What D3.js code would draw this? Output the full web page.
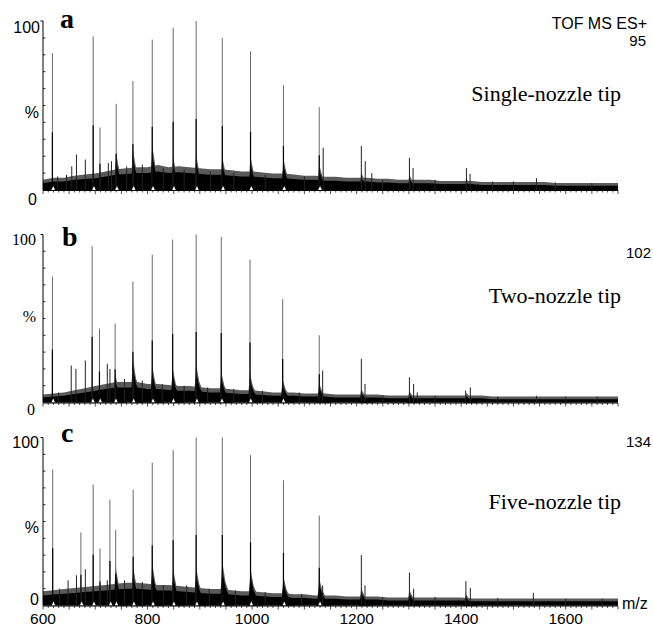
<!DOCTYPE html>
<html><head><meta charset="utf-8">
<script src="https://cdn.jsdelivr.net/npm/d3@7"></script>
<style>body{margin:0;background:#fff} svg{display:block}</style>
</head><body>
<svg id="chart" width="653" height="627"></svg>
<script>
// ---------------- data ----------------
const mzGrid = [600,620,640,660,680,700,720,740,760,780,800,820,840,860,880,900,920,940,960,980,
  1000,1020,1040,1060,1080,1100,1120,1140,1160,1180,1200,1220,1240,1260,1280,1300,1320,1340,1360,1380,
  1400,1420,1440,1460,1480,1500,1520,1540,1560,1580,1600,1620,1640,1660,1680,1700];

// noise floor (% of base peak)
const noiseA = [4,5,5,6,6.5,7,8,9,9.5,10,10,11,10,10.5,10,9.5,9,9,8.5,8,
  8,7.5,7,7,6.5,6,6,5.5,5.5,5,5,5,4.5,4.5,4,4,4,4,3.5,3.5,
  3.5,3.5,3,3,3,3,3,3,3,2.5,2.5,2.5,2.5,2.5,2.5,2.5];
const noiseB = [3,3.5,4,5,6,7,8,9,9,9,8,8,7.5,7,7,6.5,6,6,5.5,5,
  5,4.5,4,4,4,3.5,3.5,3.5,3,3,3,3,3,2.5,2.5,2.5,2.5,2.5,2.5,2.5,
  2.5,2.5,2.5,2,2,2,2,2,2,2,2,2,2,2,2,2];
const noiseC = [6,6.5,7,7.5,8,8.5,9,9.5,10,10,9.5,9,9,8.5,8,7.5,7,7,6.5,6,
  6,5.5,5,5,4.5,4.5,4,4,4,3.5,3.5,3.5,3.5,3,3,3,3,3,3,3,
  3,2.5,2.5,2.5,2.5,2.5,2.5,2.5,2.5,2.5,2.5,2.5,2.5,2.5,2.5,2.5];

// peaks [m/z, % intensity]
const peaksA = [[618,81],[628,8],[645,9],[655,14],[664,21],[681,18],[696,91],[709,37],[725,16],[731,17],
  [740,51],[760,14],[772,64.5],[790,15],[809,89],[830,13],[849,96],[870,12],[893,100],[920,11],
  [943,90],[965,10],[997,82],[1025,9],[1060,62],[1100,8],[1128.5,49],[1136,25],[1209,26],[1216.5,17],
  [1229,10],[1250,6],[1301,19],[1308,13],[1350,6],[1410,13],[1417,9.5],[1460,5],[1500,5],[1544,7],
  [1580,4.5],[1650,4]];
const peaksB = [[618,75],[630,6],[654,22],[663,20],[681,25],[694,93],[708,44],[723,23],[728,20],[738,47],
  [756,14],[772,72],[790,13],[809,88],[828,11],[848,97],[870,10],[893,100],[915,9],[941,98.5],
  [965,8],[996,85],[1020,7],[1058.5,61.5],[1090,6],[1128.5,40],[1135,19],[1209,26],[1216,11],[1250,4],
  [1301,15],[1309,11],[1316,6],[1350,4],[1408.5,7],[1417.5,9],[1470,3.5],[1544,4],[1600,3.5],[1660,3.5]];
const peaksC = [[618.5,81],[632,10],[648,15],[664,18],[672.5,43.5],[681,21.5],[696,72],[709,34],[723,15],[728,63],
  [739,45],[756,15],[772.5,69],[790,14],[809,85],[830,12],[849,92.5],[875,12],[893,100],[918,10],
  [943,100],[968,9],[997,89.5],[1025,8],[1060,74.5],[1095,7],[1128.5,53.5],[1135,12],[1209,30],[1216,12],
  [1250,5],[1301,19.5],[1309,10],[1350,5],[1409,14.5],[1417.5,10.5],[1470,4.5],[1538,7.6],[1600,4],[1670,4]];

// adduct shoulders at the base of charge-state peaks [m/z, % height]
const shouldersA = [[740,18],[772,20],[809,22],[849,16],[893,17],[943,16],[997,16],[1060,15],[1128.5,12],[1209,8],[1301,7],[1410,5]];
const shouldersB = [[738,14],[772,22],[809,18],[848,17],[893,19],[941,15],[996,14],[1058.5,11],[1128.5,9],[1209,6],[1301,5],[1410,4]];
const shouldersC = [[739,19],[772.5,19],[809,21],[849,18],[893,19],[943,22],[997,18],[1060,14],[1128.5,13],[1209,8],[1301,7],[1409,5]];

const xTickLabels = [600,800,1000,1200,1400,1600];
const panelLetters = ["a","b","c"];
const tipTitles = ["Single-nozzle tip","Two-nozzle tip","Five-nozzle tip"];
const baseIntensity = ["95","102","134"];
const yLabels = ["100","%","0"];
const headerText = "TOF MS ES+";
const xUnit = "m/z";

// ---------------- layout ----------------
const SANS = "'Liberation Sans', Arial, sans-serif";
const SERIF = "'Liberation Serif', 'Times New Roman', serif";
const svg = d3.select("#chart");
const x = d3.scaleLinear().domain([600,1700]).range([43,618]);
const FUZZ = "#5a5a5a";

const panels = [
  {top:21, base:190, noise:noiseA, peaks:peaksA, sh:shouldersA, font:SANS,
   yl:[[40,33],[39,118],[37,205]], letter:[60,28], title:101, maxY:46, maxX:646},
  {top:234.5, base:402.5, noise:noiseB, peaks:peaksB, sh:shouldersB, font:SERIF,
   yl:[[36,245],[36,322],[35,415]], letter:[62,246], title:303, maxY:258, maxX:651},
  {top:437.5, base:605.5, noise:noiseC, peaks:peaksC, sh:shouldersC, font:SANS,
   yl:[[39,448],[39,533],[39,605]], letter:[61,442], title:509, maxY:447, maxX:651}
];

const shape = [[-5,0],[-1.5,0.6],[0,1],[2,0.8],[6,0.5],[13,0.25],[22,0]];

panels.forEach((p, i) => {
  const g = svg.append("g");
  const y = d3.scaleLinear().domain([0,100]).range([p.base, p.top]);
  const noisePts = mzGrid.map((m, k) => [m, p.noise[k]]);
  const area = d3.area().x(d => x(d[0])).y0(y(0)).y1(d => y(d[1]));

  const fuzzLayer = g.append("g");
  const solidLayer = g.append("g");

  // noise floor: fuzzy top + solid body
  fuzzLayer.append("path").datum(noisePts.map(d => [d[0], d[1]*1.25 + 1]))
    .attr("d", area).attr("fill", FUZZ);
  solidLayer.append("path").datum(noisePts).attr("d", area).attr("fill","#000");

  // shoulders
  p.sh.forEach(([m,h]) => {
    fuzzLayer.append("path").datum(shape.map(([dx,f]) => [m+dx, f*h*1.2+1]))
      .attr("d", area).attr("fill", FUZZ);
    solidLayer.append("path").datum(shape.map(([dx,f]) => [m+dx, f*h]))
      .attr("d", area).attr("fill","#000");
  });

  // peaks: thin grey tops, darker bases
  g.selectAll("line.top").data(p.peaks).join("line")
    .attr("x1", d => x(d[0])).attr("x2", d => x(d[0]))
    .attr("y1", y(0)).attr("y2", d => y(d[1]))
    .attr("stroke", d => d[1] > 30 ? "#6a6a6a" : "#222").attr("stroke-width", 1);
  g.selectAll("line.base").data(p.peaks.filter(d => d[1] > 30)).join("line")
    .attr("x1", d => x(d[0])).attr("x2", d => x(d[0]))
    .attr("y1", y(0)).attr("y2", d => y(d[1]*0.42))
    .attr("stroke", "#000").attr("stroke-width", 1.2);

  // white notches under major peaks
  g.selectAll("path.notch").data(p.peaks.filter(d => d[1] > 40)).join("path")
    .attr("d", d => { const cx = x(d[0]) + 0.8, b = y(0); return `M${cx-1.8},${b}L${cx+1.8},${b}L${cx},${b-4}Z`; })
    .attr("fill","#fff");

  // y axis
  g.append("line").attr("x1",43).attr("x2",43).attr("y1",y(100)).attr("y2",y(0))
    .attr("stroke","#000").attr("stroke-width",1);
  g.append("line").attr("x1",40.5).attr("x2",43).attr("y1",y(100)).attr("y2",y(100))
    .attr("stroke","#000").attr("stroke-width",1);
  g.selectAll("line.yt").data(d3.range(10,100,10)).join("line")
    .attr("x1",43).attr("x2",45.5).attr("y1", d => y(d)).attr("y2", d => y(d))
    .attr("stroke","#000").attr("stroke-width",0.8);

  // x axis
  g.append("line").attr("x1",x(600)).attr("x2",x(1700)).attr("y1",y(0)+0.5).attr("y2",y(0)+0.5)
    .attr("stroke","#000").attr("stroke-width",1);
  const ticks = x.ticks(110);
  g.selectAll("line.xt").data(ticks).join("line")
    .attr("x1", d => x(d)).attr("x2", d => x(d))
    .attr("y1", y(0)+0.5).attr("y2", d => y(0) + (d % 50 === 0 ? 4 : 2.5))
    .attr("stroke","#000").attr("stroke-width",0.7);

  // y labels
  yLabels.forEach((t, k) => {
    g.append("text").attr("x", p.yl[k][0]).attr("y", p.yl[k][1])
      .attr("text-anchor","end").attr("font-family", p.font).attr("font-size", 16)
      .text(t);
  });

  // panel letter
  g.append("text").attr("x", p.letter[0]).attr("y", p.letter[1])
    .attr("font-family", SERIF).attr("font-weight","bold").attr("font-size", 28)
    .text(panelLetters[i]);

  // tip title
  g.append("text").attr("x", 621).attr("y", p.title).attr("text-anchor","end")
    .attr("font-family", SERIF).attr("font-size", 22).text(tipTitles[i]);

  // base peak intensity
  g.append("text").attr("x", p.maxX).attr("y", p.maxY).attr("text-anchor","end")
    .attr("font-family", SANS).attr("font-size", 15).text(baseIntensity[i]);

  if (i === 0) {
    g.append("text").attr("x", 647).attr("y", 29).attr("text-anchor","end")
      .attr("font-family", SANS).attr("font-size", 16).text(headerText);
  }
  if (i === 2) {
    g.selectAll("text.xl").data(xTickLabels).join("text")
      .attr("x", d => x(d)).attr("y", 624).attr("text-anchor","middle")
      .attr("font-family", SANS).attr("font-size", 15.5).text(d => d);
    g.append("text").attr("x", 622).attr("y", 609)
      .attr("font-family", SANS).attr("font-size", 16).text(xUnit);
  }
});
</script>
</body></html>
